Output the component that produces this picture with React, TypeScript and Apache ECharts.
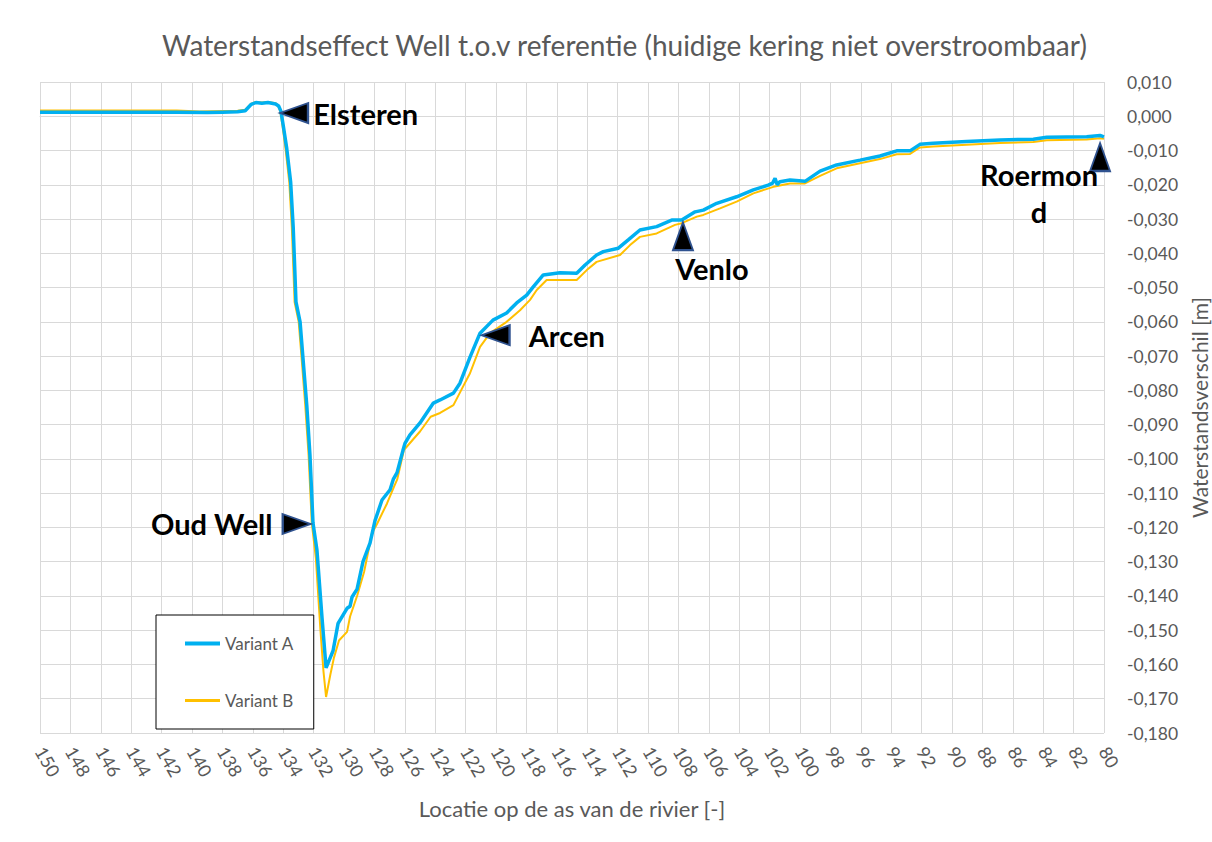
import React, { useEffect, useRef } from "react";
import * as echarts from "echarts";

// Variant A (blue)
const locA = [150, 145, 141, 139, 138, 137, 136.5, 136.1, 135.8, 135.4, 135.0, 134.5, 134.3, 134.15, 134.0, 133.77, 133.51, 133.34, 133.16, 132.89, 132.68, 132.45, 132.24, 132.04, 131.78, 131.45, 131.18, 130.95, 130.72, 130.39, 129.8, 129.6, 129.47, 129.14, 128.75, 128.29, 127.96, 127.5, 126.97, 126.76, 126.51, 126.12, 125.99, 125.66, 125.0, 124.12, 123.68, 122.8, 122.37, 121.71, 121.05, 120.2, 119.3, 118.64, 117.98, 117.55, 116.89, 115.79, 114.69, 114.14, 113.38, 112.94, 111.95, 111.3, 110.53, 109.43, 108.44, 107.78, 106.9, 106.36, 105.48, 104.17, 103.07, 102.09, 101.8, 101.64, 101.5, 101.32, 100.66, 99.67, 98.68, 97.59, 96.05, 94.74, 93.64, 92.76, 92.11, 91.23, 89.04, 86.84, 84.65, 83.77, 81.14, 80.26, 80];
const valA = [0.0012, 0.0012, 0.0012, 0.0011, 0.0012, 0.0013, 0.0016, 0.0035, 0.004, 0.0038, 0.004, 0.0036, 0.003, 0.0015, -0.0026, -0.0093, -0.0192, -0.0326, -0.0542, -0.06, -0.0717, -0.0843, -0.0989, -0.1187, -0.1266, -0.1462, -0.161, -0.1585, -0.156, -0.148, -0.1436, -0.143, -0.1403, -0.138, -0.13, -0.1246, -0.118, -0.112, -0.109, -0.106, -0.104, -0.0975, -0.0955, -0.093, -0.0895, -0.0837, -0.0828, -0.0808, -0.0779, -0.0703, -0.0633, -0.0595, -0.0574, -0.0545, -0.0522, -0.0498, -0.0463, -0.0457, -0.0458, -0.0434, -0.0405, -0.0395, -0.0385, -0.0361, -0.0332, -0.0322, -0.0303, -0.0303, -0.0279, -0.0274, -0.0254, -0.0235, -0.0215, -0.0201, -0.0195, -0.0181, -0.02, -0.0191, -0.0186, -0.019, -0.016, -0.0142, -0.0128, -0.0116, -0.0101, -0.0101, -0.0082, -0.0079, -0.0074, -0.0069, -0.0067, -0.0061, -0.006, -0.0056, -0.006];

// Variant B (yellow)
const locB = [150, 141, 139.5, 137, 136.5, 136.1, 135.8, 135.4, 135.0, 134.5, 134.35, 134.2, 134.05, 133.85, 133.6, 133.43, 133.25, 132.98, 132.77, 132.55, 132.33, 132.12, 131.85, 131.55, 131.35, 131.18, 130.9, 130.66, 130.33, 129.8, 129.6, 129.14, 128.68, 128.16, 127.83, 127.17, 126.7, 126.5, 126.06, 125.0, 124.3, 123.68, 122.8, 122.17, 121.71, 121.05, 120.39, 119.3, 118.42, 117.76, 117.32, 116.67, 114.69, 114.03, 113.38, 111.84, 111.18, 110.53, 109.43, 108.22, 107.78, 106.79, 106.36, 105.26, 104.17, 103.07, 101.75, 100.66, 99.67, 98.68, 97.59, 96.05, 94.74, 93.64, 92.76, 92.11, 91.23, 89.04, 86.84, 84.65, 83.77, 81.14, 80.26, 80];
const valB = [0.0017, 0.0017, 0.0014, 0.0016, 0.0019, 0.0037, 0.0042, 0.004, 0.0042, 0.0038, 0.0032, 0.0016, -0.0026, -0.0093, -0.0192, -0.0326, -0.0542, -0.06, -0.0717, -0.0843, -0.0989, -0.1187, -0.129, -0.15, -0.162, -0.1695, -0.163, -0.158, -0.153, -0.1505, -0.146, -0.14, -0.133, -0.1217, -0.119, -0.113, -0.108, -0.106, -0.0974, -0.092, -0.0877, -0.0866, -0.0843, -0.0789, -0.075, -0.0673, -0.0633, -0.06, -0.0566, -0.0536, -0.0507, -0.0478, -0.0478, -0.0449, -0.0425, -0.0405, -0.0376, -0.0352, -0.0342, -0.0317, -0.0312, -0.0293, -0.0288, -0.0269, -0.0249, -0.0225, -0.0206, -0.0196, -0.0196, -0.0174, -0.0152, -0.0137, -0.0125, -0.0111, -0.011, -0.0091, -0.0088, -0.0083, -0.0078, -0.0075, -0.007, -0.0068, -0.0064, -0.0066];

// Annotations (locations of the places along the river)
const placeNames = ["Elsteren", "Oud Well", "Arcen", "Venlo", "Roermond"];
const placeLoc = [133.29, 133.11, 120.03, 107.7, 80.26];
const placeVal = [0.00095, -0.119, -0.0639, -0.035, -0.0119];

const seriesNames = ["Variant A", "Variant B"];
const titleText = "Waterstandseffect Well t.o.v referentie (huidige kering niet overstroombaar)";
const xAxisName = "Locatie op de as van de rivier [-]";
const yAxisName = "Waterstandsverschil [m]";

const FONT = "Lato";
const GRAY = "#595959";

export default function App() {
  const ref = useRef<HTMLDivElement>(null);
  useEffect(() => {
    if (!ref.current) return;
    const chart = echarts.init(ref.current, undefined, { renderer: "svg" });
    const pairs = (xs: number[], ys: number[]) => xs.map((x, i) => [x, ys[i]]);
    const labelBase = {
      show: true,
      color: "#000",
      fontFamily: FONT,
      fontWeight: "bold" as const,
      fontSize: 29,
    };
    const labelCfg: any[] = [
      { ...labelBase, position: "right", distance: 4 },
      { ...labelBase, position: "left", distance: 9 },
      { ...labelBase, position: "right", distance: 18 },
      { ...labelBase, position: "bottom", distance: 3, offset: [29, 0] },
      { ...labelBase, position: "inside", offset: [-61, 36], formatter: "Roermon\nd", lineHeight: 37, align: "center" },
    ];
    const rotations = [90, -90, 90, 0, 0];
    const markData = placeNames.map((n, i) => ({
      name: n,
      coord: [placeLoc[i], placeVal[i]],
      symbol: "triangle",
      symbolSize: [20, 28],
      symbolRotate: rotations[i],
      itemStyle: { color: "#000", borderColor: "#2F528F", borderWidth: 2 },
      label: { formatter: "{b}", ...labelCfg[i] },
    }));

    chart.setOption({
      animation: false,
      backgroundColor: "#fff",
      title: {
        text: titleText,
        left: 157,
        top: 26,
        textStyle: { fontFamily: FONT, fontSize: 28, fontWeight: "normal", color: GRAY },
      },
      grid: { left: 40, right: 108, top: 82, bottom: 109, containLabel: false, outerBoundsMode: "none" },
      legend: {
        orient: "vertical",
        left: 156,
        top: 615,
        data: [
          { name: seriesNames[0], lineStyle: { width: 4 } },
          { name: seriesNames[1], lineStyle: { width: 3 } },
        ],
        itemWidth: 35,
        itemHeight: 14,
        itemGap: 40,
        padding: [20, 20, 20, 27],
        borderColor: "#000",
        borderWidth: 1,
        backgroundColor: "#fff",
        itemStyle: { opacity: 0 },
        textStyle: { fontFamily: FONT, fontSize: 17, color: GRAY },
      },
      xAxis: {
        type: "value",
        min: 80,
        max: 150,
        interval: 2,
        inverse: true,
        name: xAxisName,
        nameLocation: "middle",
        nameGap: 64,
        nameTextStyle: { fontFamily: FONT, fontSize: 22, color: GRAY },
        axisLine: { show: true, lineStyle: { color: "#d9d9d9" } },
        axisTick: { show: false },
        axisLabel: { rotate: -60, margin: 15, fontFamily: FONT, fontSize: 18, color: GRAY },
        splitLine: { show: true, lineStyle: { color: "#d9d9d9", width: 1 } },
      },
      yAxis: {
        type: "value",
        position: "right",
        min: -0.18,
        max: 0.01,
        interval: 0.01,
        name: yAxisName,
        nameLocation: "middle",
        nameRotate: 90,
        nameGap: 80,
        nameTextStyle: { fontFamily: FONT, fontSize: 21, color: GRAY },
        axisLine: { show: false },
        axisTick: { show: false },
        axisLabel: {
          margin: 23,
          fontFamily: FONT,
          fontSize: 17.5,
          color: GRAY,
          formatter: (v: number) => v.toFixed(3).replace(".", ",").replace("-0,000", "0,000"),
        },
        splitLine: { show: true, lineStyle: { color: "#d9d9d9", width: 1 } },
      },
      series: [
        {
          name: seriesNames[1],
          type: "line",
          data: pairs(locB, valB),
          showSymbol: false,
          symbol: "none",
          lineStyle: { color: "#FFC000", width: 2 },
          itemStyle: { color: "#FFC000" },
          z: 2,
        },
        {
          name: seriesNames[0],
          type: "line",
          data: pairs(locA, valA),
          showSymbol: false,
          symbol: "none",
          lineStyle: { color: "#00B0F0", width: 3.5 },
          itemStyle: { color: "#00B0F0" },
          z: 3,
          markPoint: { data: markData, z: 10 },
        },
      ],
    });
    return () => chart.dispose();
  }, []);
  return <div ref={ref} style={{ position: "fixed", left: 0, top: 0, width: 1212, height: 842 }} />;
}
